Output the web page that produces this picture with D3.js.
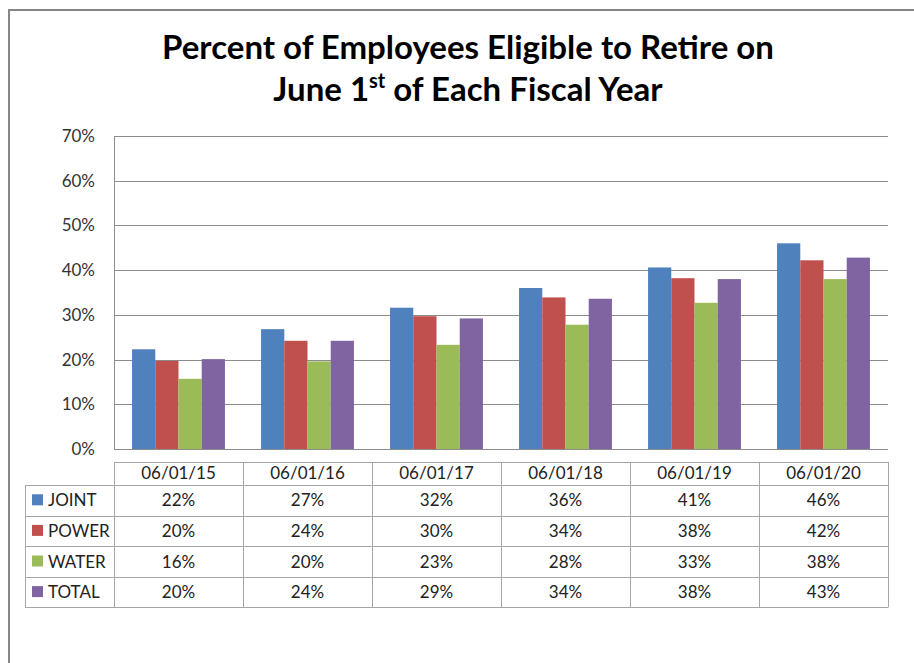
<!DOCTYPE html>
<html>
<head>
<meta charset="utf-8">
<script src="https://cdn.jsdelivr.net/npm/d3@7"></script>
<style>
  body { margin: 0; background: #fff; }
  svg { display: block; }
  text { font-family: Lato, "Open Sans", sans-serif; }
</style>
</head>
<body>
<svg id="chart" width="914" height="663"></svg>
<script>
// dates along the x axis
const dates = ["06/01/15", "06/01/16", "06/01/17", "06/01/18", "06/01/19", "06/01/20"]
const seriesNames = ["JOINT", "POWER", "WATER", "TOTAL"]
const colors = ["#4f81bd", "#c0504d", "#9bbb59", "#8064a2"]

// percent values
const joint = [22.3, 26.8, 31.6, 36.0, 40.6, 46.0]
const power = [19.7, 24.2, 29.7, 33.9, 38.2, 42.2]
const water = [15.7, 19.6, 23.3, 27.8, 32.7, 38.0]
const total = [20.1, 24.2, 29.2, 33.6, 38.0, 42.8]

const yTicks = [0, 10, 20, 30, 40, 50, 60, 70]

const allSeries = [joint, power, water, total]

var svg = d3.select("#chart")
var plotLeft = 114, plotRight = 888, plotTop = 136, plotBottom = 449

const xScale = d3.scaleBand().domain(dates).range([plotLeft, plotRight]).paddingInner(0.28).paddingOuter(0.14)
const xCols = d3.scaleBand().domain(dates).range([plotLeft, plotRight])
const xSub = d3.scaleBand().domain(seriesNames).range([0, xScale.bandwidth()])
const yScale = d3.scaleLinear().domain([0, 70]).range([plotBottom, plotTop])

// outer frame
svg.append("path")
    .attr("d", "M9,663 V10 H914")
    .attr("fill", "none")
    .attr("stroke", "#868686")
    .attr("stroke-width", 2)

// title
svg.append("text")
    .attr("x", 468).attr("y", 59)
    .attr("text-anchor", "middle")
    .attr("font-size", 33).attr("font-weight", "bold").attr("fill", "#000")
    .text("Percent of Employees Eligible to Retire on")

const t2 = svg.append("text")
    .attr("x", 468).attr("y", 101)
    .attr("text-anchor", "middle")
    .attr("font-size", 33).attr("font-weight", "bold").attr("fill", "#000")
t2.append("tspan").text("June 1")
t2.append("tspan").attr("font-size", 20).attr("dy", -13).text("st")
t2.append("tspan").attr("dy", 13).text(" of Each Fiscal Year")

// grid + y axis
const g = svg.append("g")
g.selectAll("line.grid")
    .data(yTicks)
    .join("line")
    .attr("class", "grid")
    .attr("x1", plotLeft).attr("x2", plotRight)
    .attr("y1", d => Math.round(yScale(d)) + 0.5)
    .attr("y2", d => Math.round(yScale(d)) + 0.5)
    .attr("stroke", "#8c8c8c")

g.append("line")
    .attr("x1", plotLeft + 0.5).attr("x2", plotLeft + 0.5)
    .attr("y1", plotTop).attr("y2", plotBottom)
    .attr("stroke", "#8c8c8c")

const yAxis = svg.append("g")
    .attr("transform", `translate(${plotLeft},0)`)
    .call(d3.axisLeft(yScale).tickValues(yTicks).tickFormat(d => d + "%").tickSize(0).tickPadding(19))
yAxis.select(".domain").remove()
yAxis.selectAll("text")
    .attr("font-family", "Lato, sans-serif")
    .attr("font-size", 17)
    .attr("fill", "#333")

// bars
allSeries.forEach(function (vals, si) {
    svg.append("g")
        .selectAll("rect")
        .data(vals)
        .join("rect")
        .attr("x", (d, i) => xScale(dates[i]) + xSub(seriesNames[si]))
        .attr("y", d => yScale(d))
        .attr("width", xSub.bandwidth())
        .attr("height", d => plotBottom - yScale(d))
        .attr("fill", colors[si])
})

// data table
var rowH = 30.6, headTop = 462, headH = 23
var legLeft = 25
const tbl = svg.append("g").attr("stroke", "#a6a6a6").attr("fill", "none")
const tableBottom = headTop + headH + rowH * 4

tbl.append("line").attr("x1", plotLeft).attr("x2", plotRight).attr("y1", headTop + 0.5).attr("y2", headTop + 0.5)
d3.range(5).forEach(function (r) {
    var y = Math.round(headTop + headH + r * rowH) + 0.5
    tbl.append("line").attr("x1", legLeft).attr("x2", plotRight).attr("y1", y).attr("y2", y)
})
tbl.append("line").attr("x1", legLeft + 0.5).attr("x2", legLeft + 0.5).attr("y1", headTop + headH).attr("y2", tableBottom)
dates.forEach(function (d) {
    var x = Math.round(xCols(d)) + 0.5
    tbl.append("line").attr("x1", x).attr("x2", x).attr("y1", headTop).attr("y2", tableBottom)
})
tbl.append("line").attr("x1", plotRight + 0.5).attr("x2", plotRight + 0.5).attr("y1", headTop).attr("y2", tableBottom)

svg.append("g").selectAll("text")
    .data(dates)
    .join("text")
    .attr("x", d => xCols(d) + xCols.bandwidth() / 2)
    .attr("y", headTop + 17)
    .attr("text-anchor", "middle")
    .attr("font-size", 17).attr("fill", "#222")
    .text(d => d)

allSeries.forEach(function (vals, si) {
    var cy = headTop + headH + si * rowH + rowH / 2
    svg.append("rect")
        .attr("x", 32).attr("y", cy - 6)
        .attr("width", 11).attr("height", 11)
        .attr("fill", colors[si])
    svg.append("text")
        .attr("x", 48).attr("y", cy + 6)
        .attr("font-size", 17).attr("fill", "#222")
        .text(seriesNames[si])
    svg.append("g").selectAll("text")
        .data(vals)
        .join("text")
        .attr("x", (d, i) => xCols(dates[i]) + xCols.bandwidth() / 2)
        .attr("y", cy + 6)
        .attr("text-anchor", "middle")
        .attr("font-size", 17).attr("fill", "#222")
        .text(d => Math.round(d) + "%")
})
</script>
</body>
</html>
